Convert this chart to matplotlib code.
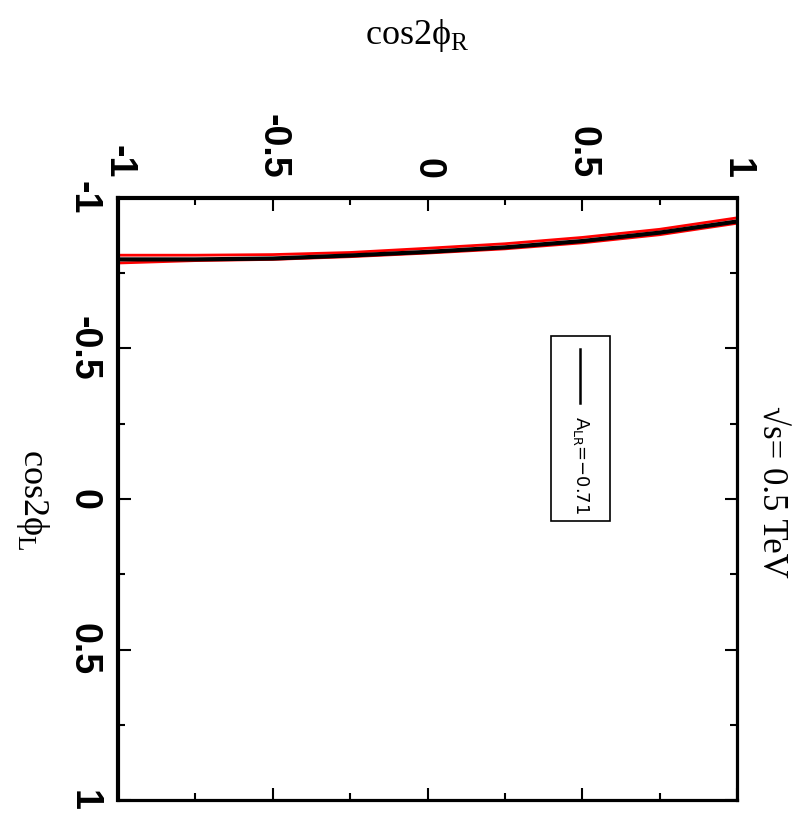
import matplotlib
matplotlib.use('Agg')
import matplotlib.pyplot as plt
from matplotlib.lines import Line2D
from matplotlib.patches import Rectangle
from matplotlib.ticker import MultipleLocator

plt.rcParams['mathtext.fontset'] = 'custom'
plt.rcParams['mathtext.rm'] = 'Liberation Serif'
plt.rcParams['mathtext.sf'] = 'Liberation Sans Narrow'

# cos2phi_R grid and the three contour curves in cos2phi_L
cos2phi_R = [-1.0, -0.75, -0.5, -0.25, 0.0, 0.25, 0.5, 0.75, 1.0]
black_L = [-0.796, -0.796, -0.799, -0.809, -0.821, -0.836, -0.857, -0.885, -0.922]
red_upper_L = [-0.810, -0.810, -0.812, -0.819, -0.833, -0.848, -0.869, -0.896, -0.934]
red_lower_L = [-0.784, -0.792, -0.796, -0.805, -0.817, -0.831, -0.851, -0.878, -0.916]

tick_vals = [-1, -0.5, 0, 0.5, 1]
tick_text = ['-1', '-0.5', '0', '0.5', '1']

serif = ['Liberation Serif', 'DejaVu Serif']

fig = plt.figure(figsize=(8.11, 8.19), dpi=100)
ax = fig.add_axes([118/811, 19/819, 619/811, 602/819])

ax.plot(cos2phi_R, red_upper_L, color='red', lw=2.0, zorder=2)
ax.plot(cos2phi_R, red_lower_L, color='red', lw=2.0, zorder=2)
ax.plot(cos2phi_R, black_L, color='black', lw=3.0, zorder=3)

ax.set_xlim(-1, 1)
ax.set_ylim(1, -1)
ax.xaxis.tick_top()
ax.xaxis.set_label_position('top')

ax.set_xticks(tick_vals)
ax.set_xticklabels(tick_text)
ax.set_yticks(tick_vals)
ax.set_yticklabels(tick_text)
ax.xaxis.set_minor_locator(MultipleLocator(0.25))
ax.yaxis.set_minor_locator(MultipleLocator(0.25))

ax.tick_params(which='both', direction='in', top=True, bottom=True,
               left=True, right=True, width=1.5)
ax.tick_params(which='major', length=9)
ax.tick_params(which='minor', length=5)
ax.tick_params(axis='x', which='major', pad=14, labelsize=27, labelrotation=-90)
ax.tick_params(axis='y', which='major', pad=12, labelsize=27, labelrotation=-90)
for lab in ax.get_xticklabels() + ax.get_yticklabels():
    lab.set_family('Liberation Sans')
    lab.set_weight('bold')
for lab in ax.get_yticklabels():
    lab.set_verticalalignment('center')

for side in ['top', 'left']:
    ax.spines[side].set_linewidth(3.0)
for side in ['bottom', 'right']:
    ax.spines[side].set_linewidth(2.3)

# legend box, drawn sideways like the rest
ax.add_patch(Rectangle((0.70, 0.4635), 0.095, 0.3075, transform=ax.transAxes,
                       fill=False, edgecolor='black', lw=1.2))
ax.add_line(Line2D([0.746, 0.746], [0.749, 0.659], transform=ax.transAxes,
                   color='black', lw=1.8))
ax.text(0.748, 0.638, r'A$_{\mathsf{LR}}$=−0.71', transform=ax.transAxes,
        rotation=-90, ha='center', va='top', fontsize=13,
        family='Liberation Sans Narrow')

fig.text(0.515, 0.957, 'cos2ϕ$_{\\mathrm{R}}$', ha='center', va='center',
         fontsize=26, family=serif)
fig.text(0.040, 0.39, 'cos2ϕ$_{\\mathrm{L}}$', ha='center', va='center',
         fontsize=26, family=serif, rotation=-90)
fig.text(0.952, 0.40, '√s= 0.5 TeV', ha='center', va='center',
         fontsize=25, family=serif, rotation=-90)

fig.savefig('out.png', dpi=100)
